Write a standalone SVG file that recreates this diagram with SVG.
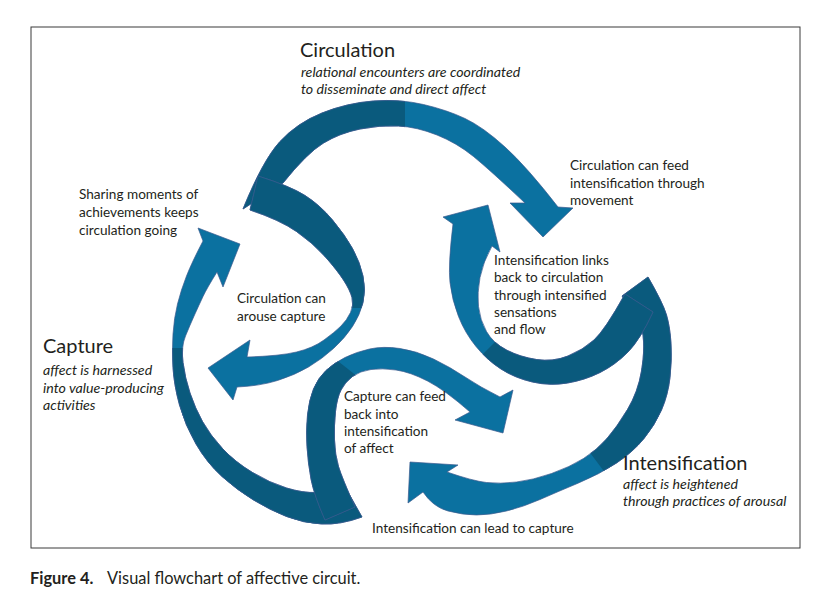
<svg xmlns="http://www.w3.org/2000/svg" width="813" height="607" viewBox="0 0 813 607">
<style>
.t{font-family:Lato,"Liberation Sans",sans-serif;font-size:13.6px;fill:#231f20}
.i{font-style:italic;font-size:14.2px}
.h{font-size:20px}
.cap{font-size:16.4px}
.b{font-weight:bold}
.lt{fill:#0b71a0;stroke:#3b5a8e;stroke-width:0.7}
.dk{fill:#0a5a7d;stroke:#3b5a8e;stroke-width:0.7}
</style>
<defs>
<path id="pA" d="M243,209 Q263,160 280,141.5 Q297,123 322,113 Q347,103 373.5,101 Q400,99 423.5,104.5 Q447,110 465,118.5 Q483,127 505,147 Q527,167 558,207 L573,208 L543,237 L510,203 L525,203 Q490,170 473.5,156.5 Q457,143 437,135 Q417,127 398.5,126 Q380,125 360,129 Q340,133 323.5,143 Q307,153 283,183 Z"/>
<path id="pB" d="M258,176 L250,210 Q280,220 296.5,231.5 Q313,243 325,256.5 Q337,270 343.5,280 Q350,290 352,297.5 Q354,305 350.5,312.5 Q347,320 341,326 Q335,332 324,340 Q313,348 296.5,352 Q280,356 247,357 L250,340 L208,368 L233,400 L237,387 Q260,386 277.5,380.5 Q295,375 308.5,367 Q322,359 333.5,348.5 Q345,338 352.5,326.5 Q360,315 363,302.5 Q366,290 363,276 Q360,262 352.5,248.5 Q345,235 332.5,220 Q320,205 305,195.5 Q290,186 258,176 Z"/>
<path id="pC" d="M648,277 L622,296 Q641,320 643,335 Q645,350 641.5,371 Q638,392 627.5,409.5 Q617,427 607,438.5 Q597,450 583.5,458.5 Q570,467 551.5,473.5 Q533,480 516.5,482 Q500,484 486.5,482.5 Q473,481 447,472 L458,465 L410,462 L408,503 L423,492 Q433,507 448,511 Q463,515 476.5,515 Q490,515 506.5,511 Q523,507 540,499.5 Q557,492 578.5,483 Q600,474 616.5,463 Q633,452 644,438.5 Q655,425 661.5,410 Q668,395 670,377.5 Q672,360 671,343.5 Q670,327 666.5,315 Q663,303 648,277 Z"/>
<path id="pD" d="M625,294 L653,312 Q640,340 627.5,352.5 Q615,365 600,372.5 Q585,380 567.5,383 Q550,386 532.5,382 Q515,378 501,369 Q487,360 476,346.5 Q465,333 458.5,316.5 Q452,300 450,282.5 Q448,265 453,224 L443,217 L488,205 L500,252 L492,246 Q483,262 480,277.5 Q477,293 478.5,306.5 Q480,320 486.5,331.5 Q493,343 506.5,350 Q520,357 536.5,359.5 Q553,362 568,356 Q583,350 594,340 Q605,330 625,294 Z"/>
<path id="pE" d="M340,478 L362,517 Q340,525 321.5,524 Q303,523 286.5,516.5 Q270,510 253.5,500 Q237,490 222,476.5 Q207,463 196,444 Q185,425 179.5,405 Q174,385 173,367.5 Q172,350 173,334 Q174,318 177.5,304 Q181,290 186.5,276 Q192,262 203,241 L198,228 L240,244 L223,287 L217,272 Q207,288 203,296.5 Q199,305 194.5,315 Q190,325 185.5,336 Q181,347 183,362.5 Q185,378 190,393 Q195,408 202.5,421.5 Q210,435 222.5,448.5 Q235,462 252.5,472.5 Q270,483 286.5,488 Q303,493 316.5,492.5 Q330,492 340,478 Z"/>
<path id="pF" d="M355,507 L325,520 Q314,495 311,479 Q308,463 307,446.5 Q306,430 307.5,415 Q309,400 313.5,389 Q318,378 326,370.5 Q334,363 345,357.5 Q356,352 369.5,349 Q383,346 400,348.5 Q417,351 433.5,359 Q450,367 465,377 Q480,387 500,397 L513,390 L503,433 L455,420 L470,412 Q445,390 427.5,381 Q410,372 396,370 Q382,368 371,369.5 Q360,371 352.5,376.5 Q345,382 341,390 Q337,398 335.5,411.5 Q334,425 334.5,440 Q335,455 338.5,466.5 Q342,478 355,507 Z"/>
<clipPath id="cA"><rect x="0" y="0" width="405" height="607"/></clipPath>
<clipPath id="cB"><rect x="0" y="0" width="813" height="308"/></clipPath>
<clipPath id="cC"><polygon points="555,406 645,526 720,526 720,250 555,250"/></clipPath>
<clipPath id="cD"><polygon points="400,437 600,237 720,237 720,460 400,460"/></clipPath>
<clipPath id="cE"><rect x="0" y="348" width="813" height="260"/></clipPath>
<clipPath id="cF"><polygon points="250,300 320,347 400,410 400,560 250,560"/></clipPath>
</defs>
<rect x="31" y="27" width="769" height="521" fill="#fff" stroke="#3a3a3a" stroke-width="1"/>
<g id="connectors">
<g id="arrow-circulation-to-intensification"><use href="#pA" class="lt"/><use href="#pA" class="dk" clip-path="url(#cA)"/></g>
<g id="arrow-circulation-to-capture"><use href="#pB" class="lt"/><use href="#pB" class="dk" clip-path="url(#cB)"/></g>
<g id="arrow-intensification-to-capture"><use href="#pC" class="lt"/><use href="#pC" class="dk" clip-path="url(#cC)"/></g>
<g id="arrow-intensification-to-circulation"><use href="#pD" class="lt"/><use href="#pD" class="dk" clip-path="url(#cD)"/></g>
<g id="arrow-capture-to-circulation"><use href="#pE" class="lt"/><use href="#pE" class="dk" clip-path="url(#cE)"/></g>
<g id="arrow-capture-to-intensification"><use href="#pF" class="lt"/><use href="#pF" class="dk" clip-path="url(#cF)"/></g>
</g>
<g id="connector-labels">
<text class="t" x="570" y="170">Circulation can feed<tspan x="570" y="188">intensification through</tspan><tspan x="570" y="205">movement</tspan></text>
<text class="t" x="79" y="199">Sharing moments of<tspan x="79" y="217">achievements keeps</tspan><tspan x="79" y="235">circulation going</tspan></text>
<text class="t" x="494" y="265">Intensification links<tspan x="494" y="282">back to circulation</tspan><tspan x="494" y="300">through intensified</tspan><tspan x="494" y="317">sensations</tspan><tspan x="494" y="334">and flow</tspan></text>
<text class="t" x="237" y="303">Circulation can<tspan x="237" y="321">arouse capture</tspan></text>
<text class="t" x="344" y="401">Capture can feed<tspan x="344" y="419">back into</tspan><tspan x="344" y="436">intensification</tspan><tspan x="344" y="453">of affect</tspan></text>
<text class="t" x="372" y="533">Intensification can lead to capture</text>
</g>
<g id="node-circulation">
<text class="t h" x="300" y="57">Circulation</text>
<text class="t i" x="301" y="77">relational encounters are coordinated<tspan x="301" y="94">to disseminate and direct affect</tspan></text>
</g>
<g id="node-capture">
<text class="t h" x="43" y="353">Capture</text>
<text class="t i" x="43" y="375">affect is harnessed<tspan x="43" y="393">into value-producing</tspan><tspan x="43" y="410">activities</tspan></text>
</g>
<g id="node-intensification">
<text class="t h" x="623" y="470">Intensification</text>
<text class="t i" x="623" y="489">affect is heightened<tspan x="623" y="506">through practices of arousal</tspan></text>
</g>
<g id="caption">
<text class="t cap" x="30" y="584"><tspan class="b">Figure 4.</tspan><tspan x="107">Visual flowchart of affective circuit.</tspan></text>
</g>
</svg>
